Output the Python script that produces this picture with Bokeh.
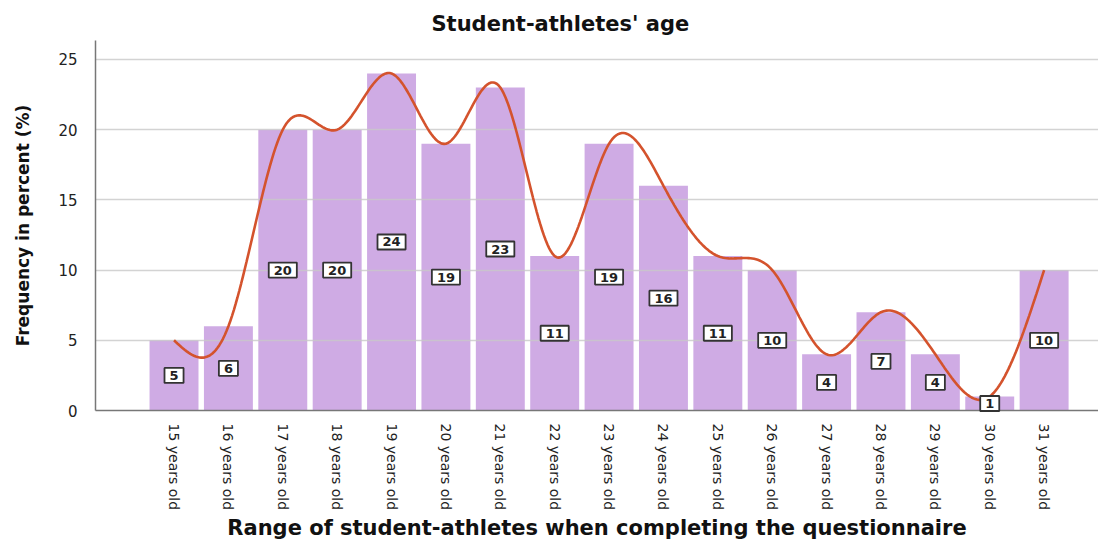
import numpy as np
from bokeh.plotting import figure
from bokeh.models import ColumnDataSource, Range1d, FixedTicker, Title
from bokeh.core.properties import value
from bokeh.embed import file_html
from bokeh.resources import INLINE

ages = ["15 years old", "16 years old", "17 years old", "18 years old", "19 years old",
        "20 years old", "21 years old", "22 years old", "23 years old", "24 years old",
        "25 years old", "26 years old", "27 years old", "28 years old", "29 years old",
        "30 years old", "31 years old"]
percent = [5, 6, 20, 20, 24, 19, 23, 11, 19, 16, 11, 10, 4, 7, 4, 1, 10]

FONT = "DejaVu Sans"
xs = np.arange(len(ages), dtype=float)
ys = np.array(percent, dtype=float)

# natural cubic spline through the bar tops (smooth rendering of the data)
n = len(xs)
h = np.diff(xs)
A = np.zeros((n, n)); b = np.zeros(n)
A[0, 0] = 1; A[-1, -1] = 1
for i in range(1, n - 1):
    A[i, i - 1] = h[i - 1]; A[i, i] = 2 * (h[i - 1] + h[i]); A[i, i + 1] = h[i]
    b[i] = 6 * ((ys[i + 1] - ys[i]) / h[i] - (ys[i] - ys[i - 1]) / h[i - 1])
M = np.linalg.solve(A, b)
sx, sy = [], []
for i in range(n - 1):
    t = np.linspace(xs[i], xs[i + 1], 30, endpoint=(i == n - 2))
    a = xs[i + 1] - t; c = t - xs[i]
    v = (M[i] * a**3 + M[i + 1] * c**3) / (6 * h[i]) + (ys[i] / h[i] - M[i] * h[i] / 6) * a + (ys[i + 1] / h[i] - M[i + 1] * h[i] / 6) * c
    sx.extend(t.tolist()); sy.extend(v.tolist())

src = ColumnDataSource(dict(x=xs, top=ys, mid=ys / 2, lab=[str(v) for v in percent]))

p = figure(width=1098, height=543, output_backend="svg", toolbar_location=None,
           x_range=Range1d(-1.444, 17.0), y_range=Range1d(0, 26.35),
           min_border_left=95, min_border_right=0, min_border_top=40, min_border_bottom=132)
p.title = Title(text="Student-athletes' age", align="left", offset=336,
                text_font=FONT, text_font_size="21px", text_font_style="bold", text_color="#111111")
p.outline_line_color = None
p.background_fill_color = "white"

bars = p.vbar(x="x", top="top", width=0.9, source=src, fill_color="#CFABE4", line_color=None)
bars.level = "image"
curve = p.line(sx, sy, line_color="#D4532D", line_width=2.6)
curve.level = "glyph"

labs = p.text(x="x", y="mid", text="lab", source=src, text_align="center", text_baseline="middle",
              text_font=value(FONT), text_font_size="13px", text_font_style="bold", text_color="#222222",
              background_fill_color="white", border_line_color="#333333", border_line_width=1.8,
              padding=(5, 3))
labs.level = "annotation"

p.xgrid.grid_line_color = None
p.ygrid.grid_line_color = "#c8c8c8"
p.ygrid.grid_line_width = 1.5
p.ygrid.grid_line_alpha = 0.8
p.ygrid.level = "underlay"
p.yaxis.ticker = FixedTicker(ticks=[0, 5, 10, 15, 20, 25])
p.xaxis.ticker = FixedTicker(ticks=list(range(len(ages))))
p.xaxis.major_label_overrides = {i: a for i, a in enumerate(ages)}
p.xaxis.major_label_orientation = -np.pi / 2

for ax in (p.xaxis, p.yaxis):
    ax.axis_line_color = "#777777"
    ax.axis_line_width = 1.5
    ax.major_tick_line_color = None
    ax.minor_tick_line_color = None
    ax.major_label_text_font = FONT
    ax.major_label_text_color = "#222222"
    ax.axis_label_text_font = FONT
    ax.axis_label_text_font_style = "bold"
    ax.axis_label_text_color = "#111111"

p.yaxis.major_label_text_font_size = "15px"
p.yaxis.major_label_standoff = 12
p.yaxis.axis_label = "Frequency in percent (%)"
p.yaxis.axis_label_text_font_size = "17px"
p.yaxis.axis_label_standoff = 22

p.xaxis.major_label_text_font_size = "14px"
p.xaxis.major_label_standoff = 7
p.xaxis.axis_label = "Range of student-athletes when completing the questionnaire"
p.xaxis.axis_label_text_font_size = "21px"
p.xaxis.axis_label_standoff = 3

open("out.html", "w").write(file_html(p, INLINE))
